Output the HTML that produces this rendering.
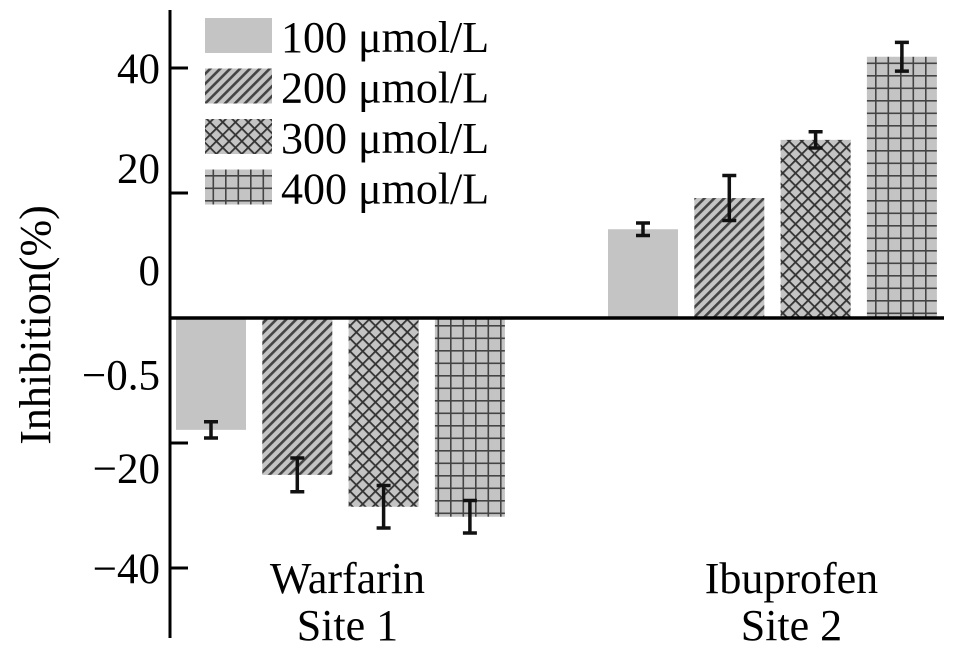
<!DOCTYPE html>
<html><head><meta charset="utf-8"><style>
html,body{margin:0;padding:0;background:#fff;}
svg{display:block;font-family:"Liberation Serif",serif;}
</style></head><body>
<svg id="chart" width="972" height="658" viewBox="0 0 972 658">
<defs>
<pattern id="p-diag" patternUnits="userSpaceOnUse" width="7" height="7" patternTransform="rotate(45)">
<rect width="7" height="7" fill="#c4c4c4"/><rect width="2.6" height="7" fill="#444"/></pattern>
<pattern id="p-cross" patternUnits="userSpaceOnUse" width="9" height="9" patternTransform="rotate(45)">
<rect width="9" height="9" fill="#c4c4c4"/><rect width="1.8" height="9" fill="#333"/><rect width="9" height="1.8" fill="#333"/></pattern>
<pattern id="p-grid" patternUnits="userSpaceOnUse" width="12.5" height="12.5">
<rect width="12.5" height="12.5" fill="#c4c4c4"/><rect width="1.6" height="12.5" fill="#444"/><rect width="12.5" height="1.6" fill="#444"/></pattern>
</defs>
<g id="bars"></g>
<g id="axes"></g>
<g id="legend"></g>
<text x="50" y="325" font-size="44" text-anchor="middle" transform="rotate(-90 50 325)">Inhibition(%)</text>
</svg>
<script>
const categories = ["Warfarin", "Ibuprofen"];
const categorySub = ["Site 1", "Site 2"];
const seriesNames = ["100 μmol/L", "200 μmol/L", "300 μmol/L", "400 μmol/L"];
const warfarinValues = [-17.9, -25.1, -30.2, -31.8];
const warfarinErrors = [1.3, 2.7, 3.4, 2.6];
const ibuprofenValues = [14.2, 19.2, 28.5, 41.8];
const ibuprofenErrors = [1.0, 3.6, 1.3, 2.3];
const tickValues = [40, 20, 0, -20, -40];
const tickLabels = ["40", "20", "0", "-0.5", "-20", "-40"];
const tickLabelValues = [40, 24, 7.7, -9, -24, -40];

const NS = "http://www.w3.org/2000/svg";
const fills = ["#c4c4c4", "url(#p-diag)", "url(#p-cross)", "url(#p-grid)"];
const y0 = 318, pxPerUnit = 6.25;
function yScale(v){ return y0 - v * pxPerUnit; }
const groupStart = [176, 608], barW = 70, barStep = 86.3;
const labelShift = [7, 19];
function xScale(g, s){ return groupStart[g] + s * barStep; }
function mk(tag, attrs, parent){ const e = document.createElementNS(NS, tag); for (const k in attrs) e.setAttribute(k, attrs[k]); parent.appendChild(e); return e; }

const barsG = document.getElementById("bars");
const allVals = [warfarinValues, ibuprofenValues];
const allErrs = [warfarinErrors, ibuprofenErrors];
for (let g = 0; g < 2; g++) {
  for (let s = 0; s < 4; s++) {
    const v = allVals[g][s], e = allErrs[g][s];
    const x = xScale(g, s), yv = yScale(v);
    const r = mk("rect", {x: x, y: Math.min(yv, y0), width: barW, height: Math.abs(yv - y0), fill: fills[s]}, barsG);
    
    
    const cx = x + barW / 2, yt = yScale(v + e), yb = yScale(v - e);
    const eb = mk("path", {d: `M${cx} ${yt}V${yb}M${cx-7} ${yt}H${cx+7}M${cx-7} ${yb}H${cx+7}`, stroke: "#111", "stroke-width": 3.5, fill: "none"}, barsG);
    
    
  }
}

const ax = document.getElementById("axes");
const yAxis = mk("line", {x1: 170, y1: 10, x2: 170, y2: 638, stroke: "#000", "stroke-width": 3}, ax);


const base = mk("line", {x1: 170, y1: y0, x2: 944, y2: y0, stroke: "#000", "stroke-width": 3.5}, ax);


tickValues.forEach(v => {
  if (v === 0) return;
  const t = mk("line", {x1: 170, y1: yScale(v), x2: 188, y2: yScale(v), stroke: "#000", "stroke-width": 3}, ax);
  
  
});
tickLabels.forEach((lab, i) => {
  const t = mk("text", {x: 160, y: yScale(tickLabelValues[i]) + 15, "font-size": 43, "text-anchor": "end"}, ax);
  t.textContent = lab.replace("-", "\u2212");
  
  
});
categories.forEach((c, g) => {
  const cx = (xScale(g, 0) + xScale(g, 3) + barW) / 2 + labelShift[g];
  const t1 = mk("text", {x: cx, y: 593, "font-size": 44, "text-anchor": "middle"}, ax);
  t1.textContent = c;
  
  
  const t2 = mk("text", {x: cx, y: 640, "font-size": 44, "text-anchor": "middle"}, ax);
  t2.textContent = categorySub[g];
  
  
});

const lg = document.getElementById("legend");
seriesNames.forEach((n, i) => {
  const y = 18 + i * 50.5;
  const r = mk("rect", {x: 205, y: y, width: 67, height: 35, fill: fills[i]}, lg);
  
  
  const t = mk("text", {x: 281, y: y + 34, "font-size": 44}, lg);
  t.textContent = n;
  
  
});
</script>
</body></html>
